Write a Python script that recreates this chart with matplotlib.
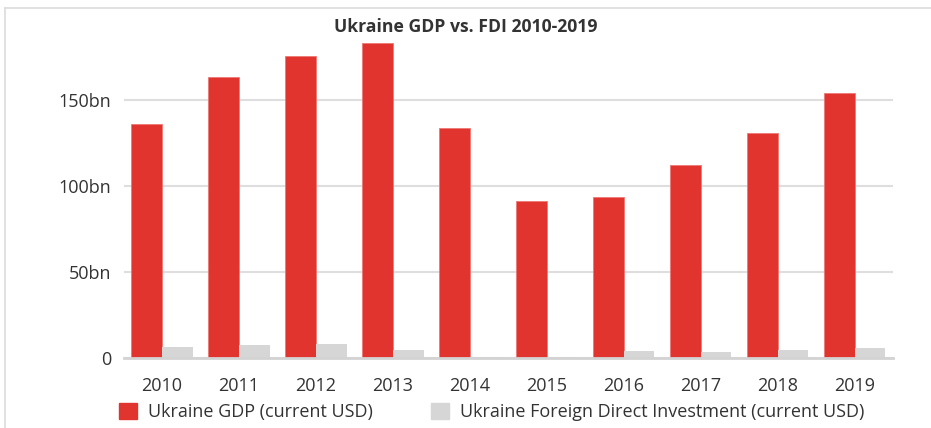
import numpy as np
import matplotlib.pyplot as plt
from matplotlib.lines import Line2D
from matplotlib.patches import Patch

plt.rcParams['font.family'] = ['Open Sans', 'DejaVu Sans']

years = ['2010', '2011', '2012', '2013', '2014', '2015', '2016', '2017', '2018', '2019']
gdp = [136.0, 163.2, 175.8, 183.3, 133.5, 91.0, 93.4, 112.2, 130.9, 153.8]  # bn USD
fdi = [6.5, 7.3, 8.2, 4.5, 0.8, 0.3, 3.8, 3.7, 4.6, 5.9]  # bn USD

red = '#e2342e'
grey = '#d6d6d6'
txt = '#333333'

fig = plt.figure(figsize=(9.31, 4.28), dpi=100)
ax = fig.add_axes([123.5/931, 70/428, 769.5/931, 323.4/428])

x = np.arange(len(years))
w = 0.4
ax.bar(x - w/2, gdp, w, color=red, edgecolor='#ee7773', linewidth=0.6, zorder=3)
ax.bar(x + w/2, fdi, w, color=grey, zorder=3)

ax.set_xlim(-0.5, len(years) - 0.5)
ax.set_ylim(0, 188)
ax.set_yticks([0, 50, 100, 150])
ax.set_yticklabels(['0', '50bn', '100bn', '150bn'])
ax.set_xticks(x)
ax.set_xticklabels(years)
ax.tick_params(length=0, labelsize=13, colors=txt)
ax.tick_params(axis='x', pad=14)
ax.tick_params(axis='y', pad=9)
ax.grid(axis='y', color='#dedede', linewidth=1.5, zorder=0)
for s in ['top', 'right', 'left']:
    ax.spines[s].set_visible(False)
ax.spines['bottom'].set_color('#d3d3d3')
ax.spines['bottom'].set_linewidth(2)
ax.spines['bottom'].set_zorder(4)

fig.suptitle('Ukraine GDP vs. FDI 2010-2019', y=1 - 27/428, va='center',
             fontsize=12.7, fontweight='bold', color=txt)

handles = [Patch(color=red, label='Ukraine GDP (current USD)'),
           Patch(color=grey, label='Ukraine Foreign Direct Investment (current USD)')]
fig.legend(handles=handles, loc='center left', bbox_to_anchor=(103/931, 1 - 412/428),
           ncol=2, frameon=False, fontsize=13, labelcolor=txt,
           handlelength=1.0, handleheight=1.0, handletextpad=0.6, columnspacing=3.2)

# outer frame
fig.add_artist(Line2D([5/931, 1], [1 - 8/428] * 2, color='#dcdcdc', lw=1.2))
fig.add_artist(Line2D([5/931] * 2, [0, 1 - 8/428], color='#dcdcdc', lw=1.2))

fig.savefig('out.png', dpi=100)
